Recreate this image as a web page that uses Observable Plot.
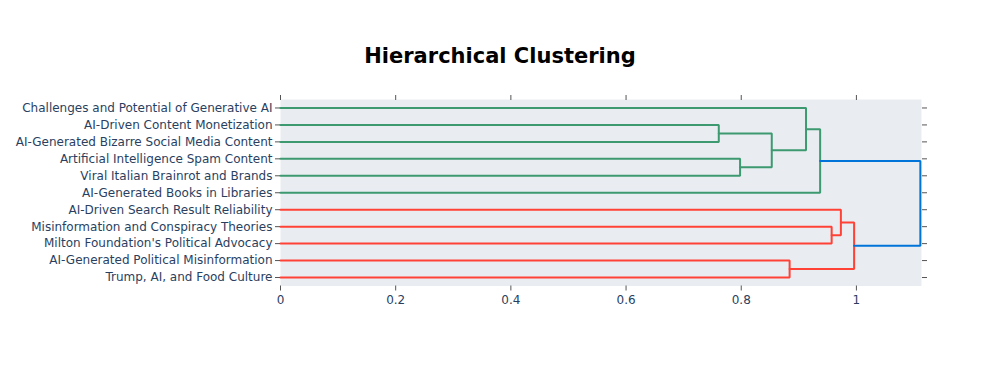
<!DOCTYPE html>
<html>
<head>
<meta charset="utf-8">
<script src="https://cdn.jsdelivr.net/npm/d3@7"></script>
<script src="https://cdn.jsdelivr.net/npm/@observablehq/plot@0.6"></script>
<style>
  html, body { margin: 0; padding: 0; background: #fff; }
  #wrap { position: relative; width: 1000px; height: 365px; }
  #title { position: absolute; left: 0; top: 46px; width: 1000px; text-align: center;
    font-family: "DejaVu Sans", Verdana, sans-serif; font-weight: bold; font-size: 21px; line-height: 21px; color: #000; }
</style>
</head>
<body>
<div id="wrap"><div id="title">Hierarchical Clustering</div></div>
<script>
// Leaves, top to bottom
const leaves = [
  "Challenges and Potential of Generative AI",
  "AI-Driven Content Monetization",
  "AI-Generated Bizarre Social Media Content",
  "Artificial Intelligence Spam Content",
  "Viral Italian Brainrot and Brands",
  "AI-Generated Books in Libraries",
  "AI-Driven Search Result Reliability",
  "Misinformation and Conspiracy Theories",
  "Milton Foundation's Political Advocacy",
  "AI-Generated Political Misinformation",
  "Trump, AI, and Food Culture"
];
// Merges: node ids 0-10 are leaves, merge k creates node 11+k
const mergeA = [1, 3, 11, 0, 14, 7, 6, 9, 17, 15];
const mergeB = [2, 4, 12, 13, 5, 8, 16, 10, 18, 19];
const mergeDist = [0.761, 0.798, 0.853, 0.9125, 0.937, 0.957, 0.973, 0.884, 0.996, 1.111];
const mergeColor = ["rgb(61,153,112)", "rgb(61,153,112)", "rgb(61,153,112)", "rgb(61,153,112)", "rgb(61,153,112)",
  "rgb(255,65,54)", "rgb(255,65,54)", "rgb(255,65,54)", "rgb(255,65,54)", "rgb(0,116,217)"];
const xTicks = [0, 0.2, 0.4, 0.6, 0.8, 1];

// Build node positions
const nodeY = leaves.map((_, i) => i);
const nodeX = leaves.map(() => 0);
mergeA.forEach((a, k) => {
  const b = mergeB[k];
  nodeY.push((nodeY[a] + nodeY[b]) / 2);
  nodeX.push(mergeDist[k]);
});
const pts = [];
mergeA.forEach((a, k) => {
  const b = mergeB[k], h = mergeDist[k], c = mergeColor[k];
  pts.push({link: k, color: c, x: nodeX[a], y: nodeY[a]});
  pts.push({link: k, color: c, x: h, y: nodeY[a]});
  pts.push({link: k, color: c, x: h, y: nodeY[b]});
  pts.push({link: k, color: c, x: nodeX[b], y: nodeY[b]});
});

const leafIdx = leaves.map((_, i) => i);
const tickColor = "#555";
const textColor = "#2a3f5f";

const chart = Plot.plot({
  width: 1000,
  height: 365,
  marginLeft: 280,
  marginRight: 79,
  marginTop: 99,
  marginBottom: 79.5,
  style: {fontFamily: "'DejaVu Sans', Verdana, sans-serif", fontSize: "12px", background: "transparent"},
  x: {domain: [0, 1.113]},
  y: {domain: [-0.5, 10.5], reverse: true},
  color: {type: "identity"},
  marks: [
    Plot.frame({fill: "#e9edf2", stroke: null}),
    Plot.line(pts, {x: "x", y: "y", z: "link", stroke: "color", strokeWidth: 2, strokeLinejoin: "miter", clip: false}),
    Plot.axisY({anchor: "left", ticks: leafIdx, tickFormat: i => leaves[i], tickSize: 5, tickPadding: 3, stroke: tickColor, fill: textColor, label: null}),
    Plot.axisY({anchor: "right", ticks: leafIdx, tickFormat: () => "", tickSize: 5, stroke: tickColor, label: null}),
    Plot.axisX({anchor: "bottom", ticks: xTicks, tickFormat: d => String(+d.toFixed(1)), tickSize: 5, tickPadding: 4, stroke: tickColor, fill: textColor, label: null}),
    Plot.axisX({anchor: "top", ticks: xTicks, tickFormat: () => "", tickSize: 5, stroke: tickColor, label: null})
  ]
});
document.getElementById("wrap").appendChild(chart);
</script>
</body>
</html>
